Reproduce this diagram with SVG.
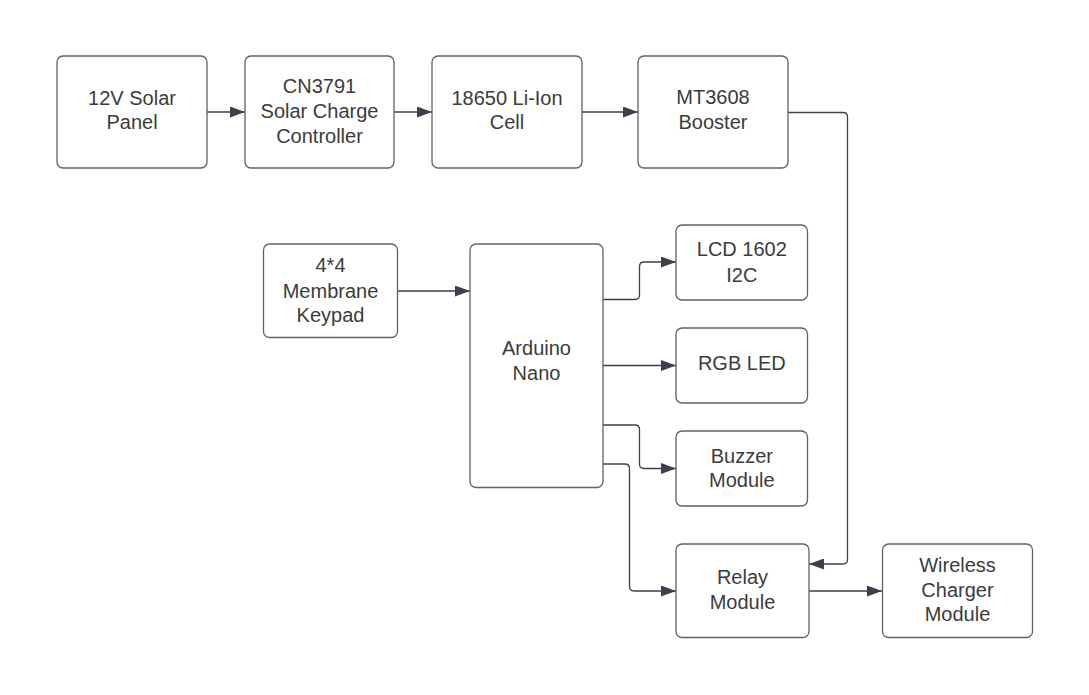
<svg xmlns="http://www.w3.org/2000/svg" width="1089" height="695" viewBox="0 0 1089 695">
<defs>
<style>
.box{fill:#ffffff;stroke:#5f6166;stroke-width:1.3}
.t{font-family:"Liberation Sans",Arial,sans-serif;font-size:20px;fill:#3b3b3b;text-anchor:middle}
.c{fill:none;stroke:#3a414a;stroke-width:1.3}
</style>
<marker id="ah" viewBox="0 0 15 11" refX="15" refY="5.5" markerWidth="15" markerHeight="11" markerUnits="userSpaceOnUse" orient="auto">
<path d="M0,0 L15,5.5 L0,11 Z" fill="#3a414a"/>
</marker>
</defs>
<rect width="1089" height="695" fill="#ffffff"/>
<g id="connectors">
<path class="c" d="M207,112 H245" marker-end="url(#ah)"/>
<path class="c" d="M394,112 H432" marker-end="url(#ah)"/>
<path class="c" d="M582,112 H638" marker-end="url(#ah)"/>
<path class="c" d="M788,112.5 H843 Q847.5,112.5 847.5,117 V559.5 Q847.5,564 843,564 H809" marker-end="url(#ah)"/>
<path class="c" d="M397,291 H470" marker-end="url(#ah)"/>
<path class="c" d="M603,299.5 H635 Q639.5,299.5 639.5,295 V266.5 Q639.5,262 644,262 H676" marker-end="url(#ah)"/>
<path class="c" d="M603,365.5 H676" marker-end="url(#ah)"/>
<path class="c" d="M603,425 H635 Q639.5,425 639.5,429.5 V464 Q639.5,468.5 644,468.5 H676" marker-end="url(#ah)"/>
<path class="c" d="M603,464 H625 Q629.5,464 629.5,468.5 V586.5 Q629.5,591 634,591 H676" marker-end="url(#ah)"/>
<path class="c" d="M809,591 H882" marker-end="url(#ah)"/>
</g>
<g id="solar-panel">
<rect class="box" x="57" y="56" width="150" height="112" rx="6"/>
<text class="t" x="132" y="104.5">12V Solar</text>
<text class="t" x="132" y="129">Panel</text>
</g>
<g id="charge-controller">
<rect class="box" x="245" y="56" width="149" height="112" rx="6"/>
<text class="t" x="319.5" y="92.7">CN3791</text>
<text class="t" x="319.5" y="118">Solar Charge</text>
<text class="t" x="319.5" y="143">Controller</text>
</g>
<g id="li-ion-cell">
<rect class="box" x="432" y="56" width="150" height="112" rx="6"/>
<text class="t" x="507" y="104.5">18650 Li-Ion</text>
<text class="t" x="507" y="129">Cell</text>
</g>
<g id="booster">
<rect class="box" x="638" y="56" width="150" height="112" rx="6"/>
<text class="t" x="713" y="104">MT3608</text>
<text class="t" x="713" y="128.7">Booster</text>
</g>
<g id="keypad">
<rect class="box" x="263.5" y="244" width="134" height="93.5" rx="6"/>
<text class="t" x="330.5" y="272">4*4</text>
<text class="t" x="330.5" y="297.7">Membrane</text>
<text class="t" x="330.5" y="322">Keypad</text>
</g>
<g id="arduino-nano">
<rect class="box" x="470" y="244" width="133" height="243.5" rx="6"/>
<text class="t" x="536.5" y="355.3">Arduino</text>
<text class="t" x="536.5" y="380.3">Nano</text>
</g>
<g id="lcd">
<rect class="box" x="676" y="225" width="131.5" height="75" rx="6"/>
<text class="t" x="741.8" y="256.3">LCD 1602</text>
<text class="t" x="741.8" y="282">I2C</text>
</g>
<g id="rgb-led">
<rect class="box" x="676" y="328" width="131.5" height="75" rx="6"/>
<text class="t" x="741.8" y="369.7">RGB LED</text>
</g>
<g id="buzzer">
<rect class="box" x="676" y="431" width="131.5" height="75" rx="6"/>
<text class="t" x="741.8" y="463">Buzzer</text>
<text class="t" x="741.8" y="487">Module</text>
</g>
<g id="relay">
<rect class="box" x="676" y="544" width="133" height="93.5" rx="6"/>
<text class="t" x="742.5" y="583.7">Relay</text>
<text class="t" x="742.5" y="608.7">Module</text>
</g>
<g id="wireless-charger">
<rect class="box" x="882.5" y="544" width="150" height="93.5" rx="6"/>
<text class="t" x="957.5" y="572.3">Wireless</text>
<text class="t" x="957.5" y="597">Charger</text>
<text class="t" x="957.5" y="621.3">Module</text>
</g>
</svg>
